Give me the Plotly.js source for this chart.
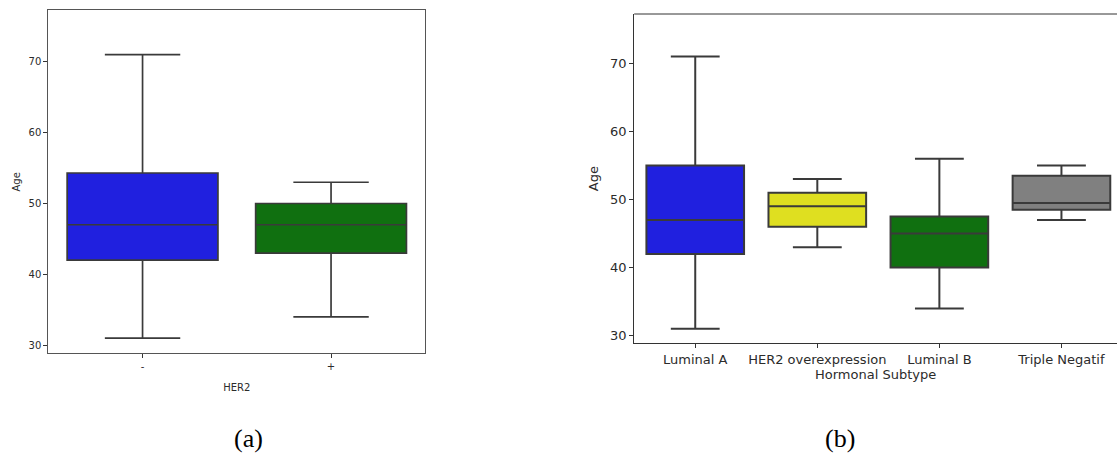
<!DOCTYPE html>
<html>
<head>
<meta charset="utf-8">
<script src="https://cdn.plot.ly/plotly-3.0.1.min.js"></script>
<style>
  html, body { margin: 0; padding: 0; background: #ffffff; }
  #chart { width: 1117px; height: 454px; }
</style>
</head>
<body>
<div id="chart"></div>
<script>
// ---- Panel (a): Age by HER2 status ----
const her2Cats  = ['-', '+'];
const her2Low   = [31, 34];
const her2Q1    = [42, 43];
const her2Med   = [47, 47];
const her2Q3    = [54.3, 50];
const her2High  = [71, 53];
const her2Colors = ['#2020df', '#107010'];

// ---- Panel (b): Age by hormonal subtype ----
const subCats   = ['Luminal A', 'HER2 overexpression', 'Luminal B', 'Triple Negatif'];
const subLow    = [31, 43, 34, 47];
const subQ1     = [42, 46, 40, 48.5];
const subMed    = [47, 49, 45, 49.5];
const subQ3     = [55, 51, 47.5, 53.5];
const subHigh   = [71, 53, 56, 55];
const subColors = ['#2020df', '#dfdf20', '#107010', '#808080'];

const edge = '#3a3a3a';
const W = 1117, H = 454;

function boxTrace(cat, lo, q1, med, q3, hi, color, xa, ya, lw) {
  return {
    type: 'box',
    x: [cat], q1: [q1], median: [med], q3: [q3],
    lowerfence: [lo], upperfence: [hi],
    xaxis: xa, yaxis: ya,
    width: 0.8,
    whiskerwidth: 0.5,
    fillcolor: color,
    line: { color: edge, width: lw },
    boxpoints: false,
    showlegend: false,
    hoverinfo: 'skip'
  };
}

const traces = [];
her2Cats.forEach((c, i) => traces.push(
  boxTrace(c, her2Low[i], her2Q1[i], her2Med[i], her2Q3[i], her2High[i], her2Colors[i], 'x', 'y', 1.7)));
subCats.forEach((c, i) => traces.push(
  boxTrace(c, subLow[i], subQ1[i], subMed[i], subQ3[i], subHigh[i], subColors[i], 'x2', 'y2', 2)));

const leftFont  = { family: 'DejaVu Sans, sans-serif', size: 10, color: '#2b2b2b' };
const rightFont = { family: 'DejaVu Sans, sans-serif', size: 13, color: '#2b2b2b' };

const rightSpan = 122.07; // px per category in panel (b)
const rightLeftPx = 634.2;

const layout = {
  width: W, height: H,
  margin: { l: 0, r: 0, t: 0, b: 0 },
  paper_bgcolor: '#ffffff',
  plot_bgcolor: '#ffffff',
  boxmode: 'overlay',
  showlegend: false,
  xaxis: {
    domain: [48.3 / W, 425.3 / W],
    type: 'category',
    categoryorder: 'array', categoryarray: her2Cats,
    range: [-0.5, 1.5],
    showline: true, mirror: true, linecolor: '#555555', linewidth: 1,
    ticks: 'outside', ticklen: 4, tickcolor: '#333333',
    showgrid: false, zeroline: false,
    tickfont: leftFont,
    title: { text: 'HER2', font: leftFont, standoff: 12 },
    automargin: false,
    fixedrange: true
  },
  yaxis: {
    domain: [1 - 353.3 / H, 1 - 10.3 / H],
    range: [28.87, 77.25],
    tickvals: [30, 40, 50, 60, 70],
    showline: true, mirror: true, linecolor: '#555555', linewidth: 1,
    ticks: 'outside', ticklen: 4, tickcolor: '#333333',
    showgrid: false, zeroline: false,
    tickfont: leftFont,
    title: { text: 'Age', font: leftFont, standoff: 6 },
    automargin: false,
    fixedrange: true
  },
  xaxis2: {
    domain: [rightLeftPx / W, 1],
    anchor: 'y2',
    type: 'category',
    categoryorder: 'array', categoryarray: subCats,
    range: [-0.5, -0.5 + (W - rightLeftPx) / rightSpan],
    showline: true, mirror: false, linecolor: '#333333', linewidth: 1,
    ticks: 'outside', ticklen: 4, tickcolor: '#333333',
    showgrid: false, zeroline: false,
    tickfont: rightFont,
    title: { text: 'Hormonal Subtype', font: rightFont, standoff: 2 },
    automargin: false,
    fixedrange: true
  },
  yaxis2: {
    domain: [1 - 343.3 / H, 1 - 14 / H],
    anchor: 'x2',
    range: [28.88, 77.24],
    tickvals: [30, 40, 50, 60, 70],
    showline: true, mirror: false, linecolor: '#333333', linewidth: 1,
    ticks: 'outside', ticklen: 4, tickcolor: '#333333',
    showgrid: false, zeroline: false,
    tickfont: rightFont,
    title: { text: 'Age', font: rightFont, standoff: 8 },
    automargin: false,
    fixedrange: true
  },
  shapes: [
    { type: 'line', xref: 'x2 domain', yref: 'y2 domain', x0: 0, x1: 1, y0: 1, y1: 1,
      line: { color: '#333333', width: 1 } }
  ],
  annotations: [
    { text: '(a)', xref: 'paper', yref: 'paper', x: 248 / W, y: 1 - 438 / H,
      xanchor: 'center', yanchor: 'middle', showarrow: false,
      font: { family: 'Liberation Serif, Times New Roman, serif', size: 26, color: '#000000' } },
    { text: '(b)', xref: 'paper', yref: 'paper', x: 840 / W, y: 1 - 438 / H,
      xanchor: 'center', yanchor: 'middle', showarrow: false,
      font: { family: 'Liberation Serif, Times New Roman, serif', size: 26, color: '#000000' } }
  ]
};

Plotly.newPlot('chart', traces, layout, { displayModeBar: false, staticPlot: true });
</script>
</body>
</html>
